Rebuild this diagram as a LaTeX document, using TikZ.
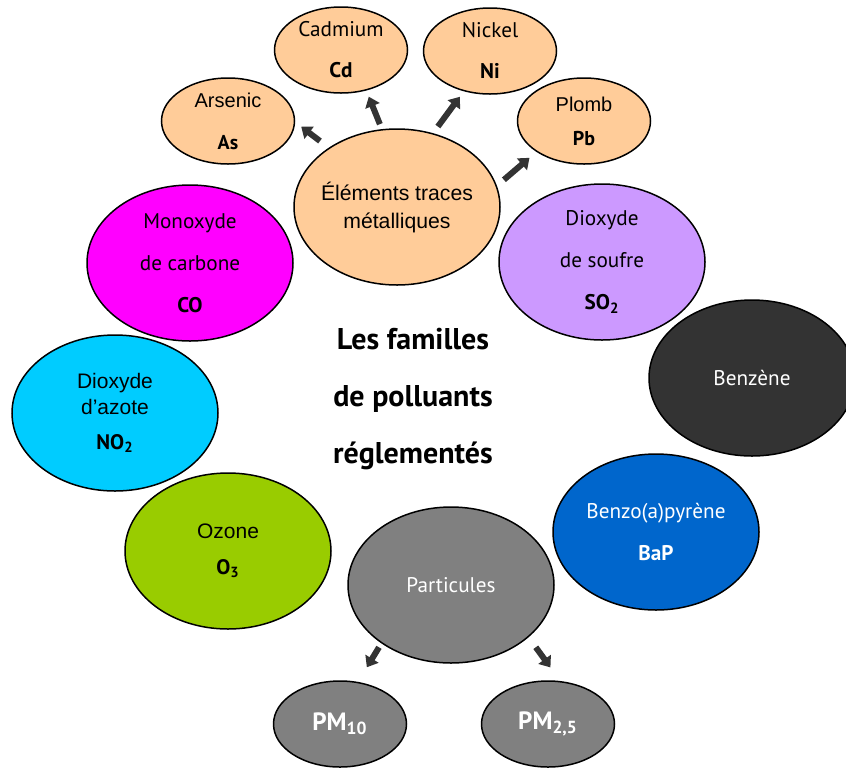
\documentclass[tikz,border=0pt]{standalone}
\usepackage{fontspec}
\setmainfont{PT Sans}
\newfontfamily\arialfont{Liberation Sans}
\usepackage{tikz}
\usetikzlibrary{shapes.geometric,arrows.meta}

\definecolor{peach}{HTML}{FFCC99}
\definecolor{cocolor}{HTML}{FF00FF}
\definecolor{so2color}{HTML}{CC99FF}
\definecolor{benzcolor}{HTML}{333333}
\definecolor{no2color}{HTML}{00CCFF}
\definecolor{o3color}{HTML}{99CC00}
\definecolor{bapcolor}{HTML}{0066CC}
\definecolor{pmcolor}{HTML}{808080}

\newcommand{\formula}[1]{{\rmfamily\bfseries #1}}

\tikzset{big node/.style={ellipse,draw,line width=0.75pt,inner sep=-8pt,align=center,
                          minimum width=103pt,minimum height=78pt,
                          font=\fontsize{10.6}{12}\selectfont},
         small node/.style={big node,fill=peach,minimum width=66.5pt,minimum height=43pt},
         fat arrow/.style={draw=black!80,line width=3pt,-{Triangle[length=5pt,width=7.5pt]}}}

\begin{document}
\begin{tikzpicture}[x=0.5pt,y=-0.5pt]
  \useasboundingbox (0,0) rectangle (846,767);
  % metaux
  \node[big node,fill=peach,font=\arialfont\fontsize{10.6}{14}\selectfont]
                              (etm)  at (397,207) {Éléments traces\\métalliques};
  \node[small node,font=\arialfont\fontsize{10}{12}\selectfont]
                              (as)   at (228,121) {Arsenic\\[9pt]\formula{As}};
  \node[small node]           (cd)   at (341,50)  {Cadmium\\[8.5pt]\formula{Cd}};
  \node[small node]           (ni)   at (490,51)  {Nickel\\[8.5pt]\formula{Ni}};
  \node[small node,font=\arialfont\fontsize{10}{12}\selectfont]
                              (pb)   at (584,121) {Plomb\\[5pt]\formula{Pb}};
  % autres familles
  \node[big node,fill=cocolor]  (co)   at (190,263) {Monoxyde\\[9pt]de carbone\\[9pt]\formula{CO}};
  \node[big node,fill=so2color] (so2)  at (602,262) {Dioxyde\\[9pt]de soufre\\[9pt]\formula{SO\textsubscript{2}}};
  \node[big node,fill=benzcolor,text=white] (benz) at (752,378) {Benzène};
  \node[big node,fill=no2color,font=\arialfont\fontsize{10.5}{13}\selectfont]
                              (no2)  at (115,413) {Dioxyde\\d’azote\\[4.5pt]\formula{NO\textsubscript{2}}};
  \node[big node,fill=o3color,font=\arialfont\fontsize{10.5}{13}\selectfont]
                              (o3)   at (228,551) {Ozone\\[5pt]\formula{O\textsubscript{3}}};
  \node[big node,fill=bapcolor,text=white] (bap) at (656,532) {Benzo(a)pyrène\\[9pt]\formula{BaP}};
  \node[big node,fill=pmcolor,text=white]  (part) at (451,585) {Particules};
  \node[small node,fill=pmcolor,text=white,font=\bfseries\fontsize{12.5}{14}\selectfont]
                              (pm10) at (340,724) {PM\textsubscript{10}};
  \node[small node,fill=pmcolor,text=white,font=\bfseries\fontsize{12.5}{14}\selectfont]
                              (pm25) at (548,724) {PM\textsubscript{2,5}};
  \node[align=center,font=\bfseries\fontsize{15}{28.5}\selectfont]
                              (title) at (413,399) {Les familles\\de polluants\\réglementés};
  % fleches
  \draw[fat arrow,shorten <=5.5pt,shorten >=3.75pt] (etm.139) -- (as.-1);
  \draw[fat arrow,shorten <=2.65pt,shorten >=3.3pt] (etm.101) -- (cd.-58);
  \draw[fat arrow,shorten <=4.1pt,shorten >=3.4pt]  (etm.64)  -- (ni.-123);
  \draw[fat arrow,shorten <=4.6pt,shorten >=4.55pt] (etm.12)  -- (pb.-147);
  \draw[fat arrow,shorten <=2.3pt,shorten >=8.55pt] (part.-140) -- (pm10.67);
  \draw[fat arrow,shorten <=6.15pt,shorten >=8.4pt] (part.-34)  -- (pm25.74);
\end{tikzpicture}
\end{document}
